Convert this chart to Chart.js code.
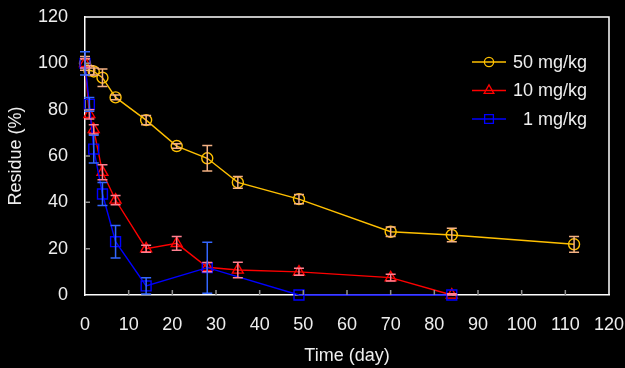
<!DOCTYPE html>
<html>
<head>
<meta charset="utf-8">
<script src="https://cdn.jsdelivr.net/npm/chart.js@4.4.0/dist/chart.umd.min.js"></script>
<style>
  html, body { margin: 0; padding: 0; background: #000; }
  #wrap { width: 625px; height: 368px; position: relative; }
</style>
</head>
<body>
<div id="wrap"><canvas id="residueChart"></canvas></div>
<script>
// Data
const xTicks = [0, 10, 20, 30, 40, 50, 60, 70, 80, 90, 100, 110, 120];
const yTicks = [0, 20, 40, 60, 80, 100, 120];

const days50 = [0, 1, 2, 4, 7, 14, 21, 28, 35, 49, 70, 84, 112];
const res50  = [100, 97, 96.5, 93.8, 85.3, 75.5, 64.3, 59, 48.6, 41.4, 27.3, 25.9, 21.9];
const err50  = [3, 2, 1.5, 3.8, 1, 2, 1, 5.5, 2.5, 2, 2, 2.9, 3.4];

const days10 = [0, 1, 2, 4, 7, 14, 21, 28, 35, 49, 70, 84];
const res10  = [100, 78, 71.5, 53, 41, 20, 22.3, 12, 10.8, 10, 7.5, 0];
const err10  = [2, 2, 2, 3.2, 2, 1.5, 3, 2, 3.3, 1.5, 1.5, 0.5];

const days1 = [0, 1, 2, 4, 7, 14, 28, 49, 84];
const res1  = [100, 82.3, 63, 43.6, 23, 3.9, 11.8, 0, 0];
const err1  = [5, 3, 6, 5, 7, 3.5, 11, 0, 0];

const FONT = "'Liberation Sans', Arial, sans-serif";

function pts(xs, ys) {
    return xs.map((d, i) => ({ x: d, y: ys[i] }));
}

const series = [
    { label: '50 mg/kg', x: days50, y: res50, err: err50, color: '#ffc000', errColor: '#f4b183', style: 'circle',   r: 5.5, lr: 4.6, order: 2 },
    { label: '10 mg/kg', x: days10, y: res10, err: err10, color: '#ff0000', errColor: '#ff8090', style: 'triangle', r: 6.3, lr: 5.6, order: 1 },
    { label: '1 mg/kg',  x: days1,  y: res1,  err: err1,  color: '#0000ff', errColor: '#3366ff', style: 'rect',     r: 7,   lr: 6.2, order: 0 }
];

// vertical error bars with caps
const errorBars = {
    id: 'errorBars',
    afterDatasetsDraw(chart) {
        const { ctx, scales: { x, y } } = chart;
        ctx.save();
        ctx.lineWidth = 1.5;
        series.forEach(s => {
            ctx.strokeStyle = s.errColor;
            s.x.forEach((d, i) => {
                const e = s.err[i];
                if (!e) return;
                const px = x.getPixelForValue(d);
                const top = y.getPixelForValue(s.y[i] + e);
                const bot = y.getPixelForValue(Math.max(0, s.y[i] - e));
                ctx.beginPath();
                ctx.moveTo(px, top); ctx.lineTo(px, bot);
                ctx.moveTo(px - 5, top); ctx.lineTo(px + 5, top);
                ctx.moveTo(px - 5, bot); ctx.lineTo(px + 5, bot);
                ctx.stroke();
            });
        });
        ctx.restore();
    }
};

// box, inward ticks and legend
const frame = {
    id: 'frame',
    afterDraw(chart) {
        const { ctx, chartArea: a, scales: { x, y } } = chart;
        ctx.save();
        ctx.strokeStyle = '#909090';
        ctx.lineWidth = 1.5;
        ctx.beginPath();
        xTicks.slice(1, -1).forEach(t => {
            const px = x.getPixelForValue(t);
            ctx.moveTo(px, a.bottom); ctx.lineTo(px, a.bottom - 5);
        });
        yTicks.slice(1, -1).forEach(t => {
            const py = y.getPixelForValue(t);
            ctx.moveTo(a.left, py); ctx.lineTo(a.left + 5, py);
        });
        ctx.stroke();

        ctx.strokeStyle = '#ffffff';
        ctx.beginPath();
        ctx.moveTo(a.left, a.top); ctx.lineTo(a.right, a.top); ctx.lineTo(a.right, a.bottom);
        ctx.stroke();

        // legend
        ctx.font = '18px ' + FONT;
        ctx.textAlign = 'right';
        ctx.textBaseline = 'middle';
        series.forEach((s, i) => {
            const ly = 62 + i * 28.5;
            ctx.strokeStyle = s.color;
            ctx.fillStyle = 'rgba(0,0,0,0)';
            ctx.lineWidth = 1.3;
            ctx.beginPath();
            ctx.moveTo(472, ly); ctx.lineTo(506, ly);
            ctx.stroke();
            Chart.helpers.drawPoint(ctx, { pointStyle: s.style, radius: s.lr, rotation: 0, borderWidth: 1.3 }, 489, ly);
            ctx.fillStyle = '#eeeeee';
            ctx.fillText(s.label, 587, ly + 1);
        });
        ctx.restore();
    }
};

function init() {
    const ctx = document.getElementById('residueChart').getContext('2d');
    new Chart(ctx, {
        type: 'scatter',
        data: {
            datasets: series.map(s => ({
                label: s.label,
                data: pts(s.x, s.y),
                showLine: true,
                borderColor: s.color,
                backgroundColor: 'rgba(0,0,0,0)',
                borderWidth: 1.4,
                pointStyle: s.style,
                pointRadius: s.r,
                pointBorderWidth: 1.4,
                pointBorderColor: s.color,
                pointBackgroundColor: 'rgba(0,0,0,0)',
                order: s.order,
                clip: 8
            }))
        },
        options: {
            responsive: true,
            maintainAspectRatio: false,
            animation: false,
            layout: { padding: { top: 17, right: 16, left: 0, bottom: 0 } },
            plugins: { legend: { display: false }, tooltip: { enabled: false } },
            scales: {
                x: {
                    type: 'linear', min: 0, max: 120,
                    afterFit: sc => { sc.height = 73; sc.paddingLeft = 0; sc.paddingRight = 0; },
                    afterBuildTicks: sc => { sc.ticks = xTicks.map(v => ({ value: v })); },
                    grid: { drawOnChartArea: false, drawTicks: false },
                    border: { color: '#ffffff', width: 1.5 },
                    ticks: { color: '#eeeeee', padding: 19, maxRotation: 0, font: { family: FONT, size: 18 } },
                    title: { display: true, text: 'Time (day)', color: '#eeeeee', padding: { top: 0, bottom: 1 }, font: { family: FONT, size: 18 } }
                },
                y: {
                    type: 'linear', min: 0, max: 120,
                    afterFit: sc => { sc.width = 85; sc.paddingTop = 0; sc.paddingBottom = 0; },
                    afterBuildTicks: sc => { sc.ticks = yTicks.map(v => ({ value: v })); },
                    grid: { drawOnChartArea: false, drawTicks: false },
                    border: { color: '#ffffff', width: 1.5 },
                    ticks: { color: '#eeeeee', padding: 17, font: { family: FONT, size: 18 } },
                    title: { display: true, text: 'Residue (%)', color: '#eeeeee', padding: { top: 5, bottom: 0 }, font: { family: FONT, size: 18 } }
                }
            }
        },
        plugins: [errorBars, frame]
    });
}

window.onload = init;
</script>
</body>
</html>
